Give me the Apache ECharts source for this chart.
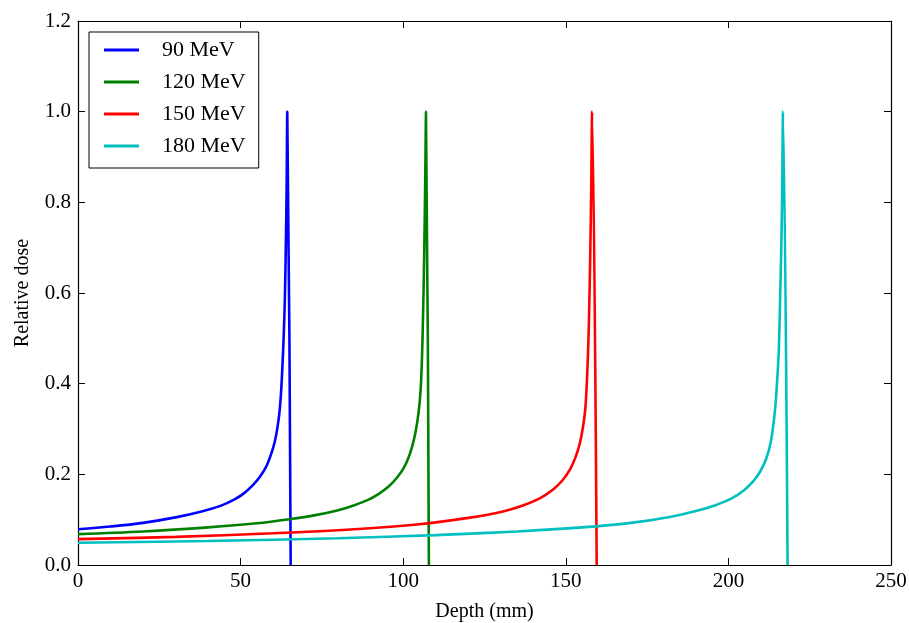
<!DOCTYPE html>
<html>
<head>
<meta charset="utf-8">
<script src="https://cdn.jsdelivr.net/npm/echarts@6/dist/echarts.min.js"></script>
<style>html,body{margin:0;padding:0;background:#fff}#c{width:909px;height:623px}</style>
</head>
<body>
<div id="c"></div>
<script>
// Depth (mm) and relative dose
const depth90 = [0, 10, 20, 30, 38, 44, 48, 51, 54, 56, 58, 59.5, 60.5, 61.3, 62.0, 62.5, 62.9, 63.25, 63.6, 63.9, 64.15, 64.35, 65.4];
const dose90  = [0.079, 0.085, 0.093, 0.105, 0.118, 0.131, 0.144, 0.158, 0.178, 0.195, 0.219, 0.247, 0.272, 0.302, 0.34, 0.388, 0.445, 0.505, 0.585, 0.70, 0.83, 1.0, 0.0];

const depth120 = [0, 20, 40, 55, 65, 73, 80, 85, 89, 92.5, 95.5, 98, 100, 101.6, 102.9, 103.9, 104.7, 105.3, 105.75, 106.1, 106.4, 106.65, 106.85, 107.0, 107.9];
const dose120  = [0.068, 0.074, 0.083, 0.092, 0.101, 0.110, 0.121, 0.132, 0.143, 0.157, 0.173, 0.192, 0.212, 0.236, 0.265, 0.297, 0.335, 0.38, 0.45, 0.55, 0.66, 0.78, 0.90, 1.0, 0.0];

const depth150 = [0, 30, 60, 85, 105, 120, 130, 137, 142, 146, 149, 151.3, 153, 154.3, 155.3, 156.0, 156.45, 156.8, 157.05, 157.3, 157.55, 157.8, 158.1, 159.5];
const dose150  = [0.057, 0.062, 0.070, 0.079, 0.090, 0.104, 0.117, 0.132, 0.147, 0.166, 0.187, 0.211, 0.238, 0.268, 0.305, 0.345, 0.40, 0.46, 0.52, 0.60, 0.70, 0.82, 1.0, 0.0];

const depth180 = [0, 40, 80, 110, 135, 155, 170, 182, 190, 196, 201, 204.8, 207.8, 210, 211.7, 213.0, 214.0, 214.6, 215.1, 215.5, 215.9, 216.2, 216.5, 216.8, 218.2];
const dose180  = [0.049, 0.053, 0.059, 0.066, 0.074, 0.083, 0.093, 0.106, 0.119, 0.132, 0.147, 0.165, 0.186, 0.209, 0.236, 0.27, 0.32, 0.364, 0.42, 0.474, 0.585, 0.68, 0.80, 1.0, 0.0];

const seriesNames = ['90 MeV', '120 MeV', '150 MeV', '180 MeV'];
const xTicks = [0, 50, 100, 150, 200, 250];
const yTicks = [0.0, 0.2, 0.4, 0.6, 0.8, 1.0, 1.2];

const colors = ['#0000ff', '#008000', '#ff0000', '#00bfbf'];
const depths = [depth90, depth120, depth150, depth180];
const doses = [dose90, dose120, dose150, dose180];

const font = 'Liberation Serif';
const chart = echarts.init(document.getElementById('c'), null, {renderer: 'canvas'});

const axisBase = {
  type: 'value',
  axisLine: {show: true, onZero: false, lineStyle: {color: '#000', width: 1.2}},
  axisTick: {show: true, inside: true, length: 7, lineStyle: {color: '#000', width: 1}},
  splitLine: {show: false}
};

chart.setOption({
  animation: false,
  backgroundColor: '#fff',
  color: colors,
  grid: {left: 78, right: 18, top: 21, bottom: 58, containLabel: false, outerBoundsMode: 'none'},
  legend: {
    orient: 'vertical',
    left: 89, top: 32,
    data: seriesNames,
    icon: 'rect',
    borderColor: '#000', borderWidth: 1, borderRadius: 0,
    padding: [7, 13, 11, 15],
    itemWidth: 35, itemHeight: 3, itemGap: 10,
    textStyle: {fontFamily: font, fontSize: 22, color: '#000', lineHeight: 20, padding: [0, 0, 0, 18]}
  },
  xAxis: [
    Object.assign({}, axisBase, {
      min: xTicks[0], max: xTicks[xTicks.length - 1], interval: 50, position: 'bottom',
      name: 'Depth (mm)', nameLocation: 'middle', nameGap: 37,
      nameTextStyle: {fontFamily: font, fontSize: 20, color: '#000'},
      axisLabel: {fontFamily: font, fontSize: 21, color: '#000', margin: 6}
    }),
    Object.assign({}, axisBase, {
      min: xTicks[0], max: xTicks[xTicks.length - 1], interval: 50, position: 'top',
      axisLabel: {show: false}
    })
  ],
  yAxis: [
    Object.assign({}, axisBase, {
      min: yTicks[0], max: yTicks[yTicks.length - 1], interval: 0.2, position: 'left',
      name: 'Relative dose', nameLocation: 'middle', nameGap: 45,
      nameTextStyle: {fontFamily: font, fontSize: 20, color: '#000'},
      axisLabel: {fontFamily: font, fontSize: 21, color: '#000', margin: 7, formatter: v => v.toFixed(1)}
    }),
    Object.assign({}, axisBase, {
      min: yTicks[0], max: yTicks[yTicks.length - 1], interval: 0.2, position: 'right',
      axisLabel: {show: false}
    })
  ],
  series: seriesNames.map((n, i) => ({
    name: n,
    type: 'line',
    xAxisIndex: 0, yAxisIndex: 0,
    symbol: 'none',
    smooth: 0.35,
    clip: true,
    lineStyle: {width: 2.6, color: colors[i]},
    itemStyle: {color: colors[i]},
    data: depths[i].map((d, k) => [d, doses[i][k]])
  }))
});
</script>
</body>
</html>
